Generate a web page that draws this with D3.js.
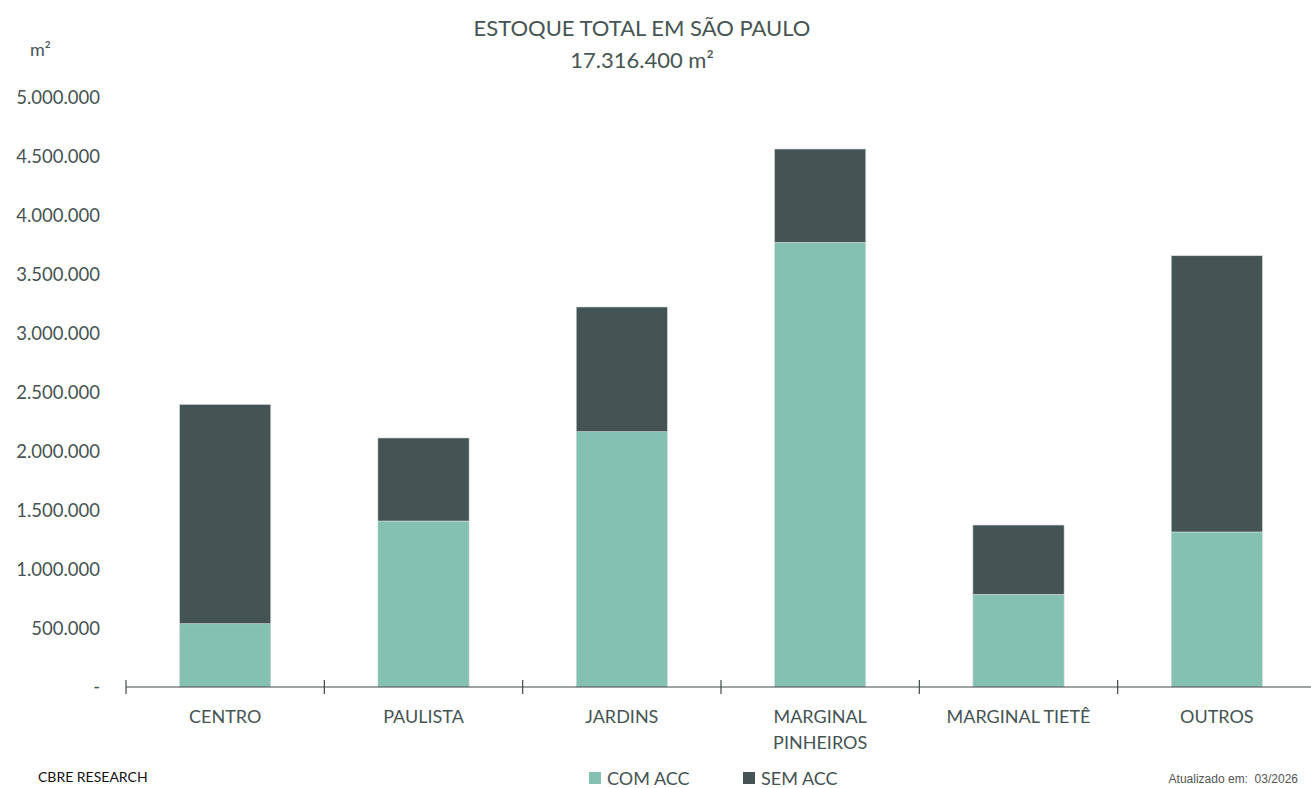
<!DOCTYPE html>
<html>
<head>
<meta charset="utf-8">
<script src="https://cdn.jsdelivr.net/npm/d3@7"></script>
<style>
  body { margin: 0; background: #fff; overflow: hidden; }
  svg text { font-family: Lato, "Open Sans", sans-serif; }
</style>
</head>
<body>
<div id="chart"></div>
<script>
var WD = 1311, HT = 788
var margin = { left: 126, right: -5, top: 98, bottom: 101 }

// data (m²)
var categories = ["CENTRO", "PAULISTA", "JARDINS", "MARGINAL PINHEIROS", "MARGINAL TIETÊ", "OUTROS"]
var comAcc = [537000, 1409000, 2167000, 3774000, 786000, 1316000]
var semAcc = [1862000, 705000, 1059000, 793000, 589000, 2345000]
var seriesNames = ["COM ACC", "SEM ACC"]
var yTicks = [0, 500000, 1000000, 1500000, 2000000, 2500000, 3000000, 3500000, 4000000, 4500000, 5000000]

var colors = ["#84c1b3", "#445454"]
var textColor = "#465454"

var table = categories.map(function(c, i){
  return { cat: c, "COM ACC": comAcc[i], "SEM ACC": semAcc[i] }
})
var stacked = d3.stack().keys(seriesNames)(table)

var x = d3.scaleBand().domain(categories)
    .range([margin.left, WD - margin.right])
// bars sit inside each band
var xb = d3.scaleBand().domain(categories)
    .range([margin.left, WD - margin.right])
    .paddingInner(0.54).paddingOuter(0.27)
var y = d3.scaleLinear().domain([0, 5000000]).range([HT - margin.bottom, margin.top])

var fmt = function(v){
  if (v === 0) return "-"
  return d3.format(",")(v).replace(/,/g, ".")
}

var svg = d3.select("#chart").append("svg")
    .attr("width", WD).attr("height", HT)

// title
svg.append("text").attr("x", 642).attr("y", 36)
   .attr("text-anchor", "middle").attr("font-size", 22).attr("fill", textColor)
   .text("ESTOQUE TOTAL EM SÃO PAULO")
svg.append("text").attr("x", 642).attr("y", 68)
   .attr("text-anchor", "middle").attr("font-size", 22).attr("fill", textColor)
   .text("17.316.400 m²")

// unit
svg.append("text").attr("x", 30).attr("y", 56)
   .attr("font-size", 18).attr("fill", textColor).text("m²")

// bars
svg.selectAll("g.series")
  .data(stacked)
  .enter().append("g")
    .attr("class", "series")
    .attr("fill", function(d, i){ return colors[i] })
  .selectAll("rect")
  .data(function(d){ return d })
  .enter().append("rect")
    .attr("x", function(d){ return xb(d.data.cat) })
    .attr("width", xb.bandwidth())
    .attr("y", function(d){ return y(d[1]) })
    .attr("height", function(d){ return y(d[0]) - y(d[1]) })
    .attr("stroke", "#d9dede")
    .attr("stroke-width", 0.6)

// y axis labels
var yAxis = d3.axisLeft(y).tickValues(yTicks).tickFormat(fmt).tickSize(0).tickPadding(0)
var yg = svg.append("g").attr("transform", "translate(100,0)").call(yAxis)
yg.select(".domain").remove()
yg.selectAll("text").attr("font-size", 18.5).attr("fill", textColor)
  .style("font-family", "Lato, sans-serif")

// x axis line with ticks on band edges
var x0 = y(0)
svg.append("line").attr("x1", margin.left).attr("x2", WD)
   .attr("y1", x0).attr("y2", x0)
   .attr("stroke", "#404848").attr("stroke-width", 1.2)
var edges = categories.map(function(c){ return x(c) })
svg.selectAll("line.xtick").data(edges).enter().append("line")
   .attr("class", "xtick")
   .attr("x1", function(d){ return d }).attr("x2", function(d){ return d })
   .attr("y1", x0 - 7).attr("y2", x0 + 7)
   .attr("stroke", "#404848").attr("stroke-width", 1.2)

// category labels
var catLines = { "MARGINAL PINHEIROS": ["MARGINAL", "PINHEIROS"] }
categories.forEach(function(c){
  var lines = catLines[c] || [c]
  var t = svg.append("text")
     .attr("text-anchor", "middle").attr("font-size", 18).attr("fill", textColor)
  lines.forEach(function(l, k){
    t.append("tspan").attr("x", x(c) + x.bandwidth() / 2)
     .attr("y", x0 + 36 + k * 26).text(l)
  })
})

// legend
var legX = [589, 743]
seriesNames.forEach(function(s, i){
  svg.append("rect").attr("x", legX[i]).attr("y", 772)
     .attr("width", 12).attr("height", 12).attr("fill", colors[i])
  svg.append("text").attr("x", legX[i] + 18).attr("y", 785)
     .attr("font-size", 18).attr("fill", textColor).text(s)
})

// footer
svg.append("text").attr("x", 38).attr("y", 782)
   .attr("font-size", 14).attr("fill", "#111").text("CBRE RESEARCH")
svg.append("text").attr("x", 1298).attr("y", 783)
   .attr("text-anchor", "end").attr("font-size", 12).attr("fill", "#555")
   .style("font-family", "Arial, 'Liberation Sans', sans-serif")
   .text("Atualizado em:\u00a0\u00a003/2026")
</script>
</body>
</html>
